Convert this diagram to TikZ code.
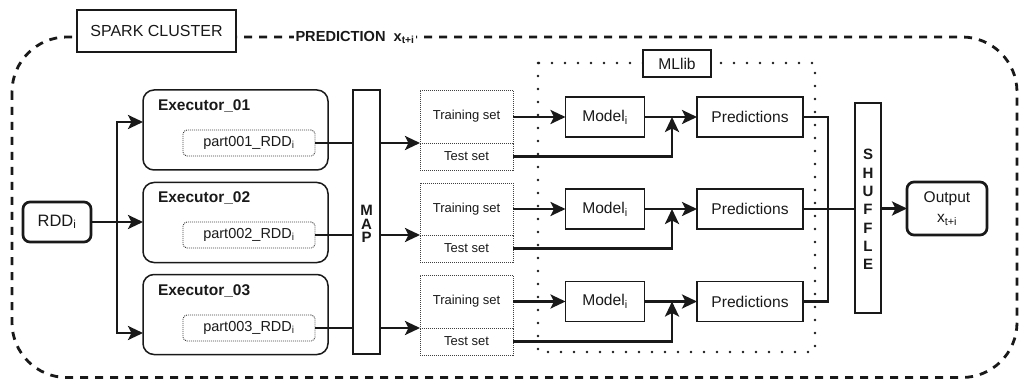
\documentclass[tikz,border=0pt]{standalone}
\usepackage{fontspec}
\setmainfont{Liberation Sans}
\usetikzlibrary{arrows.meta}
\begin{document}
\begin{tikzpicture}[x=1pt,y=-1pt,
  every node/.style={inner sep=0pt, outer sep=0pt, text=black!90},
  thickbox/.style={draw=black!90, line width=2.7pt, rounded corners=7pt, fill=white},
  plainbox/.style={draw=black!90, line width=1.3pt},
  execbox/.style={draw=black!90, line width=1.5pt, rounded corners=11pt, minimum width=185pt, minimum height=80pt},
  partbox/.style={draw=black!75, line width=0.9pt, dash pattern=on 1pt off 1pt, rounded corners=4pt, minimum width=132pt, minimum height=26pt, font=\fontsize{14.5}{16}\selectfont},
  setbox/.style={draw=black!75, line width=0.9pt, dash pattern=on 1pt off 1pt, minimum width=93pt, font=\fontsize{13}{15}\selectfont},
  bar/.style={draw=black!90, line width=2.7pt, fill=white},
  barletters/.style={align=center, font=\fontsize{15}{#1}\selectfont\bfseries},
  modelbox/.style={plainbox, minimum width=79pt, minimum height=40pt, font=\fontsize{15.6}{17}\selectfont},
  predbox/.style={plainbox, minimum width=106pt, minimum height=40pt, font=\fontsize{15.6}{17}\selectfont},
  execlabel/.style={anchor=west, font=\fontsize{15.5}{17}\selectfont\bfseries},
  ln/.style={draw=black!90, line width=2.7pt},
  arr/.style={ln, -{Stealth[length=15pt, width=14pt, inset=3.5pt]}},
  outerdash/.style={draw=black!90, line width=2.8pt, dash pattern=on 8pt off 7pt},
  mldots/.style={draw=black!90, line width=2.6pt, line cap=round, dash pattern=on 0pt off 13pt}
]
\useasboundingbox (0,0) rectangle (1019,379);

% outer dashed frame
\draw[outerdash, rounded corners=55pt] (12,37) rectangle (1017,377.5);

% MLlib dotted frame
\draw[mldots] (538,63) rectangle (815,352);

% top labels
\node[thickbox, rounded corners=0pt, minimum width=159pt, minimum height=42pt, font=\fontsize{16}{18}\selectfont] (spark) at (156.5,31) {SPARK CLUSTER};
\node[fill=white, inner xsep=1.5pt, inner ysep=4pt, anchor=base west, font=\fontsize{14.6}{16}\selectfont\bfseries] (predlbl) at (294,41.5) {PREDICTION\ \ x\textsubscript{t+i}};
\node[thickbox, rounded corners=0pt, minimum width=68pt, minimum height=27pt, font=\fontsize{15.6}{17}\selectfont] (mllib) at (677,63.5) {MLlib};

% input
\node[thickbox, minimum width=68pt, minimum height=40pt, font=\fontsize{16.5}{18}\selectfont] (rdd) at (57,222) {RDD\textsubscript{i}};

% executors
\node[execbox] (e1) at (235.5,130) {};
\node[execbox] (e2) at (235.5,222.5) {};
\node[execbox] (e3) at (235.5,314.5) {};
\node[execlabel] (e1l) at (158,106) {Executor\_01};
\node[execlabel] (e2l) at (158,198) {Executor\_02};
\node[execlabel] (e3l) at (158,291) {Executor\_03};
\node[partbox] (p1) at (249,143) {part001\_RDD\textsubscript{i}};
\node[partbox] (p2) at (249,235) {part002\_RDD\textsubscript{i}};
\node[partbox] (p3) at (249,328) {part003\_RDD\textsubscript{i}};

% MAP bar
\node[bar, minimum width=27pt, minimum height=264pt] (map) at (366.5,222) {};
\node[barletters=13.5] (maptxt) at (366.5,224) {M\\A\\P};

% training / test sets
\node[setbox, minimum height=53pt] (tr1) at (466.5,116.5) {Training set};
\node[setbox, minimum height=27pt] (te1) at (466.5,156.5) {Test set};
\node[setbox, minimum height=52pt] (tr2) at (466.5,209) {Training set};
\node[setbox, minimum height=27pt] (te2) at (466.5,248.5) {Test set};
\node[setbox, minimum height=53pt] (tr3) at (466.5,301.5) {Training set};
\node[setbox, minimum height=27pt] (te3) at (466.5,341.5) {Test set};

% models and predictions
\node[modelbox] (m1) at (605,117) {Model\textsubscript{i}};
\node[modelbox] (m2) at (605,209) {Model\textsubscript{i}};
\node[modelbox] (m3) at (605,301.5) {Model\textsubscript{i}};
\node[predbox] (pr1) at (750,117) {Predictions};
\node[predbox] (pr2) at (750,209) {Predictions};
\node[predbox] (pr3) at (750,301.5) {Predictions};

% SHUFFLE bar
\node[bar, minimum width=26pt, minimum height=210pt] (shuf) at (868,208) {};
\node[barletters=18.3] (shuftxt) at (868,209.5) {S\\H\\U\\F\\F\\L\\E};

% output
\node[thickbox, minimum width=80pt, minimum height=53pt, align=center, font=\fontsize{15.5}{20}\selectfont] (out) at (947,208.5) {Output\\x\textsubscript{t+i}};

% connectors: RDD to executors
\coordinate (split) at (117,222);
\coordinate (e1in) at (143,122);
\coordinate (e3in) at (143,333);
\draw[arr] (rdd.east) -- (rdd.east -| e2.west);
\draw[arr, line join=miter] (split) |- (e1in);
\draw[arr, line join=miter] (split) |- (e3in);

% executors through MAP to sets
\draw[ln] (p1.east) -- (p1.east -| map.west);
\draw[ln] (p2.east) -- (p2.east -| map.west);
\draw[ln] (p3.east) -- (p3.east -| map.west);
\draw[arr] (p1.east -| map.east) -- (tr1.south west);
\draw[arr] (p2.east -| map.east) -- (tr2.south west);
\draw[arr] (p3.east -| map.east) -- (tr3.south west);

% sets to models to predictions
\draw[arr] (m1.west -| tr1.east) -- (m1.west);
\draw[arr] (m2.west -| tr2.east) -- (m2.west);
\draw[arr] (m3.west -| tr3.east) -- (m3.west);
\draw[arr] (m1.east) -- (pr1.west);
\draw[arr] (m2.east) -- (pr2.west);
\draw[arr] (m3.east) -- (pr3.west);
\coordinate (j1) at (672,117);
\coordinate (j2) at (672,209);
\coordinate (j3) at (672,301.5);
\draw[arr, line join=miter] (te1.east) -| (j1);
\draw[arr, line join=miter] (te2.east) -| (j2);
\draw[arr, line join=miter] (te3.east) -| (j3);

% predictions to SHUFFLE
\coordinate (c1) at (828,117);
\coordinate (c3) at (828,301.5);
\draw[ln, line join=miter] (pr1.east) -- (c1) -- (c3) -- (pr3.east);
\draw[ln] (pr2.east) -- (pr2.east -| shuf.west);

% SHUFFLE to output
\draw[arr] (shuf.east |- out.west) -- (out.west);
\end{tikzpicture}
\end{document}
